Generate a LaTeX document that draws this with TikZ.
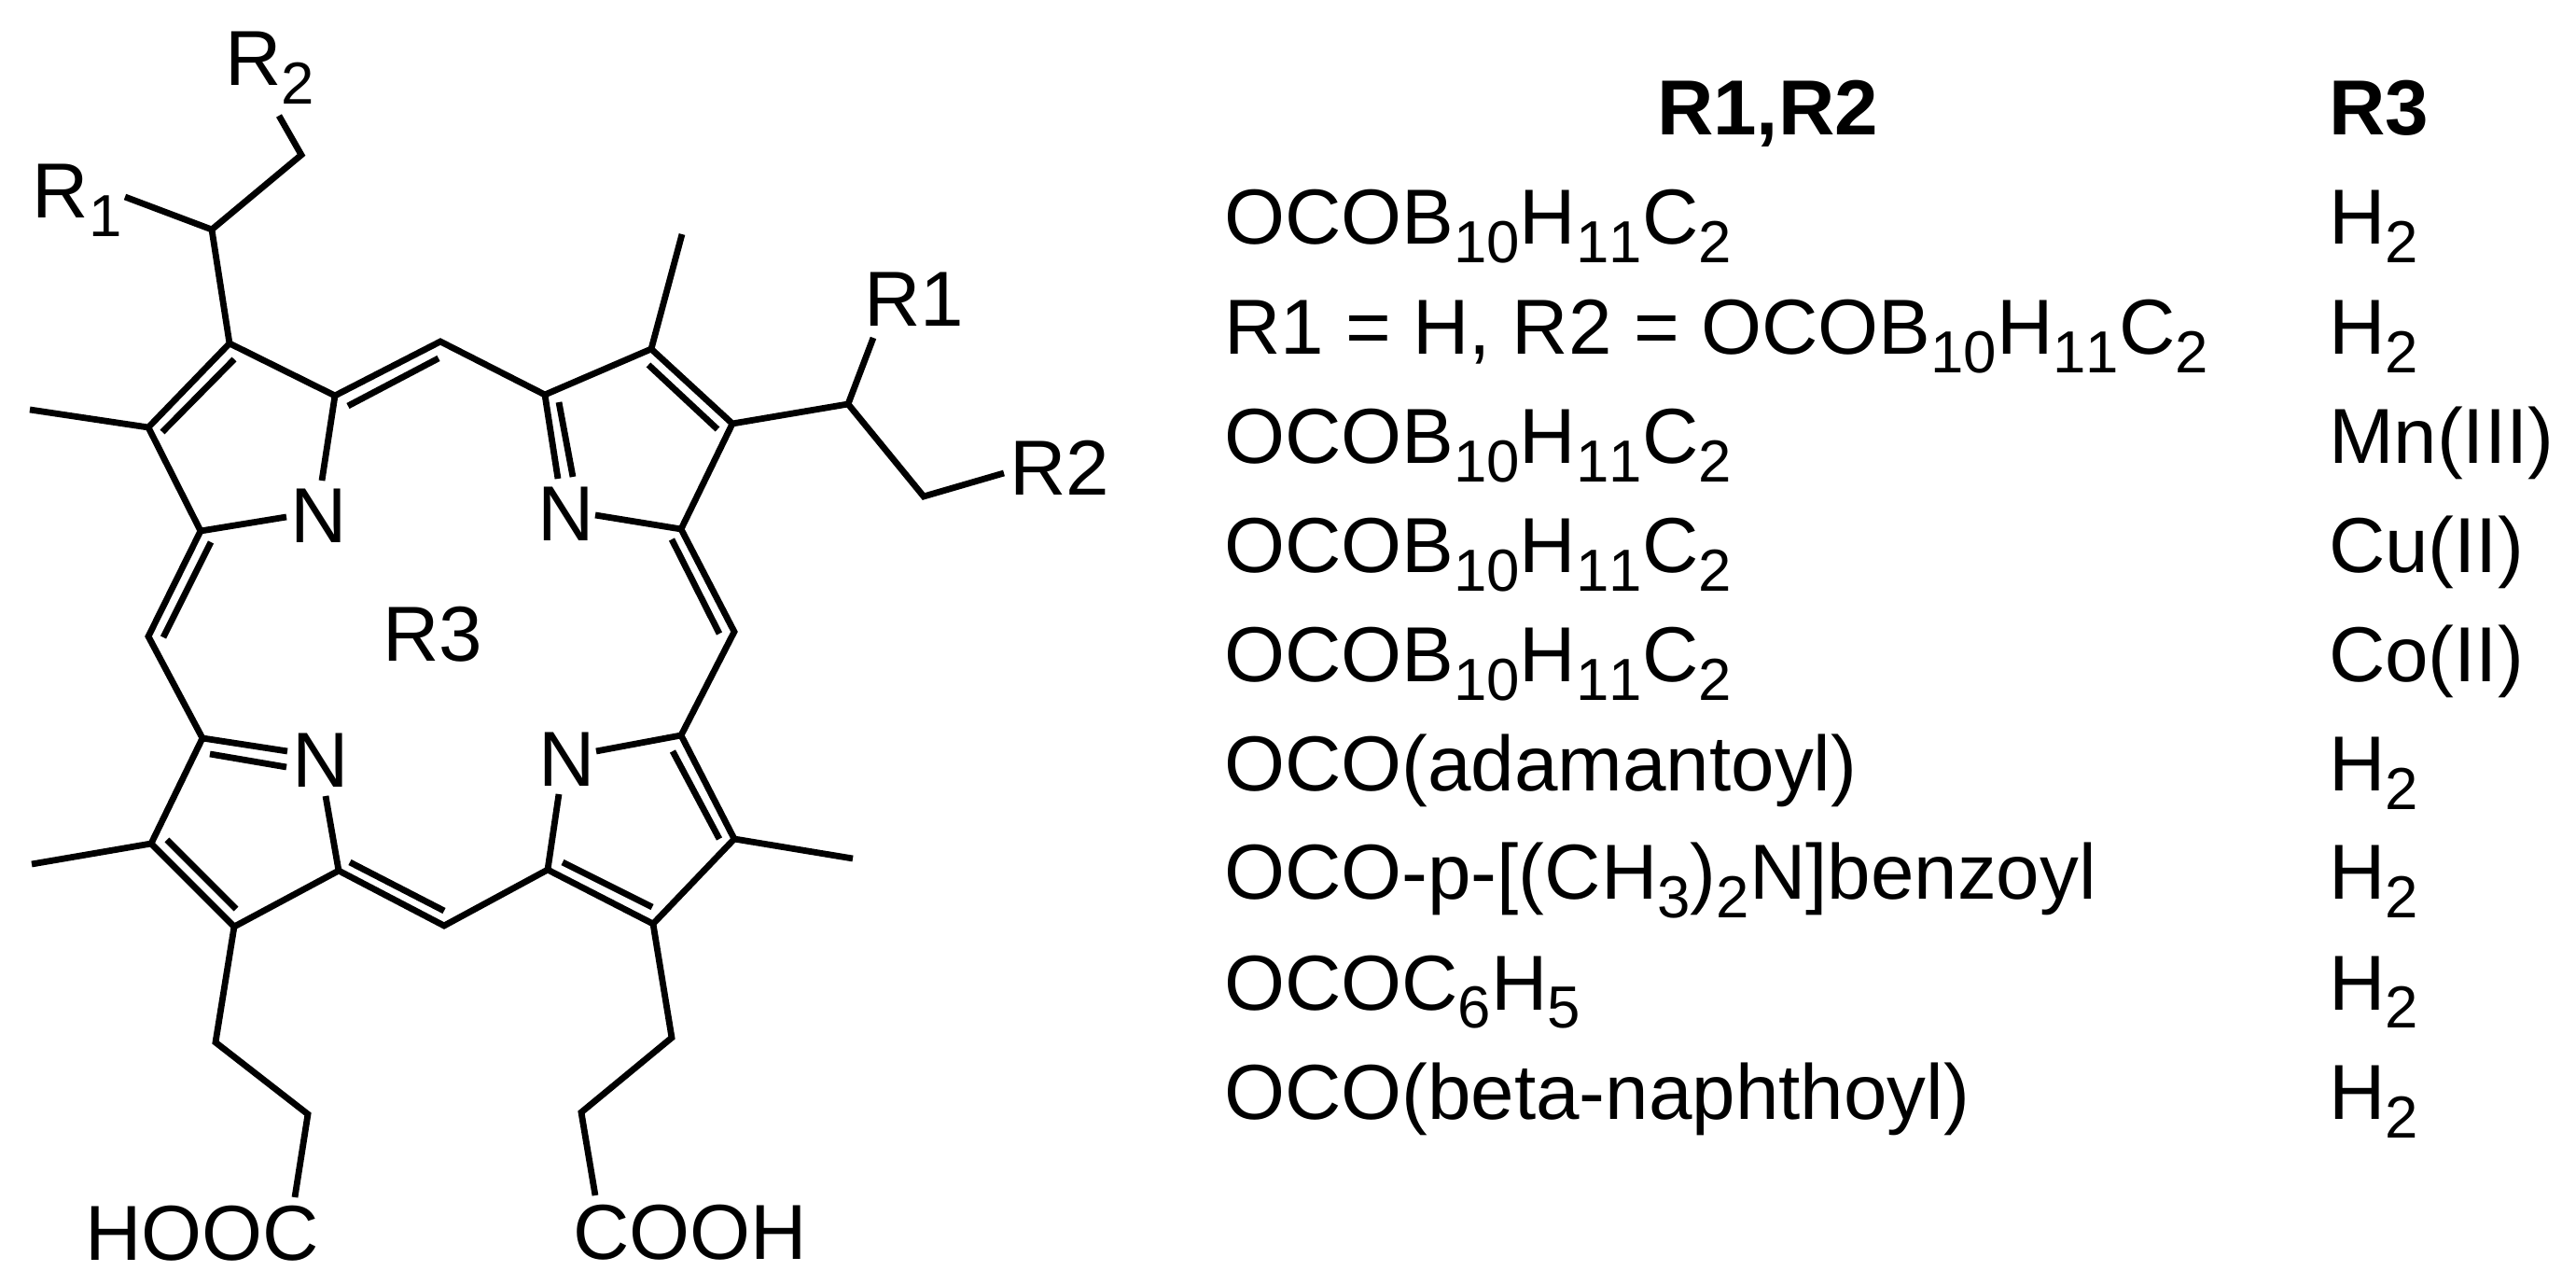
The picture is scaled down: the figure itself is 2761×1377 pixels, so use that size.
\documentclass[tikz,border=0pt]{standalone}
\usepackage{fontspec}
\setmainfont[Kerning=Off]{Liberation Sans}
\newcommand{\subs}[1]{{\fontsize{15.9}{15.9}\selectfont\raisebox{-5pt}{#1}}}
\tikzset{
  bond/.style={line width=1.7pt,line join=miter,black},
  inner/.style={line width=1.7pt,black},
  lab/.style={anchor=base west,inner sep=0pt,outer sep=0pt,font=\fontsize{20.9}{24}\selectfont},
  blab/.style={lab,font=\fontsize{20.9}{24}\selectfont\bfseries}
}
\begin{document}
\begin{tikzpicture}[x=0.25pt,y=-0.25pt]
\fill[white] (0,0) rectangle (2761,1377);
\useasboundingbox (0,0) rectangle (2761,1377);
% atoms
\coordinate (a1) at (227,246);
\coordinate (a2) at (323,166);
\coordinate (eR2) at (299,124);
\coordinate (eR1) at (134,211);
\coordinate (a3) at (246,368);
\coordinate (a4) at (159,458);
\coordinate (me1) at (32,439);
\coordinate (a5) at (215,569);
\coordinate (n1r) at (307,554);
\coordinate (n1t) at (345,515);
\coordinate (a6) at (359,424);
\coordinate (m1) at (472,366);
\coordinate (a7) at (584,423);
\coordinate (a8) at (698,374);
\coordinate (me2) at (731,251);
\coordinate (a9) at (785,454);
\coordinate (ch) at (909,433);
\coordinate (eR1b) at (936,362);
\coordinate (ch2) at (990,532);
\coordinate (eR2b) at (1076,507);
\coordinate (a10) at (730,567);
\coordinate (n2r) at (638,552);
\coordinate (n2t) at (598,513);
\coordinate (m2) at (159,682);
\coordinate (m3) at (787,677);
\coordinate (b1) at (217,791);
\coordinate (n3l) at (308,805);
\coordinate (n3b) at (349,853);
\coordinate (b2) at (363,933);
\coordinate (b3) at (251,993);
\coordinate (b4) at (162,904);
\coordinate (me3) at (34,926);
\coordinate (m4) at (476,992);
\coordinate (b6) at (587,932);
\coordinate (n4b) at (599,851);
\coordinate (n4r) at (639,805);
\coordinate (b7) at (730,788);
\coordinate (b8) at (787,899);
\coordinate (me4) at (914,920);
\coordinate (b9) at (700,990);
\coordinate (c1) at (231,1117);
\coordinate (c2) at (330,1194);
\coordinate (c3) at (316,1283);
\coordinate (d1) at (720,1112);
\coordinate (d2) at (623,1192);
\coordinate (d3) at (638,1281);
% inner ends of double bonds
\coordinate (i1a) at (251,385); \coordinate (i1b) at (174,463);
\coordinate (i2a) at (373,435); \coordinate (i2b) at (470,384);
\coordinate (i3a) at (599,431); \coordinate (i3b) at (614,511);
\coordinate (i4a) at (695,391); \coordinate (i4b) at (769,460);
\coordinate (i5a) at (226,581); \coordinate (i5b) at (175,683);
\coordinate (i6a) at (720,578); \coordinate (i6b) at (771,679);
\coordinate (i7a) at (225,808); \coordinate (i7b) at (307,822);
\coordinate (i8a) at (179,900); \coordinate (i8b) at (253,974);
\coordinate (i9a) at (375,924); \coordinate (i9b) at (476,976);
\coordinate (i10a) at (603,924); \coordinate (i10b) at (699,972);
\coordinate (i11a) at (721,805); \coordinate (i11b) at (771,899);
% skeleton
\draw[bond] (eR1) -- (a1) -- (a2) -- (eR2);
\draw[bond] (a1) -- (a3) -- (a4) -- (me1);
\draw[bond] (a4) -- (a5) -- (n1r);
\draw[bond] (a3) -- (a6) -- (n1t);
\draw[bond] (a6) -- (m1) -- (a7) -- (n2t);
\draw[bond] (a7) -- (a8) -- (me2);
\draw[bond] (a8) -- (a9) -- (ch) -- (eR1b);
\draw[bond] (ch) -- (ch2) -- (eR2b);
\draw[bond] (a9) -- (a10) -- (n2r);
\draw[bond] (a5) -- (m2) -- (b1) -- (n3l);
\draw[bond] (a10) -- (m3) -- (b7) -- (n4r);
\draw[bond] (b1) -- (b4) -- (me3);
\draw[bond] (b4) -- (b3) -- (b2) -- (n3b);
\draw[bond] (b2) -- (m4) -- (b6) -- (n4b);
\draw[bond] (b6) -- (b9) -- (b8) -- (b7);
\draw[bond] (b8) -- (me4);
\draw[bond] (b3) -- (c1) -- (c2) -- (c3);
\draw[bond] (b9) -- (d1) -- (d2) -- (d3);
% double bond inner lines
\foreach \k in {1,...,11} \draw[inner] (i\k a) -- (i\k b);
% structure labels
\node[lab] (tR2) at (241,91.5) {R\subs{2}};
\node[lab] (tR1) at (35,234) {R\subs{1}};
\node[lab] (tR1b) at (926,350) {R1};
\node[lab] (tR2b) at (1082,531) {R2};
\node[lab] (tN1) at (311,582) {N};
\node[lab] (tN2) at (576,580) {N};
\node[lab] (tR3) at (410,709) {R3};
\node[lab] (tN3) at (313,844) {N};
\node[lab] (tN4) at (577,843) {N};
\node[lab] (tHOOC) at (91,1350) {HOOC};
\node[lab] (tCOOH) at (614,1349) {COOH};
% table
\node[blab] (h1) at (1776,145) {R1,R2};
\node[blab] (h2) at (2496,145) {R3};
\node[lab] (r1) at (1312,262) {OCOB\subs{10}H\subs{11}C\subs{2}};
\node[lab] (r2) at (1312,379.5) {R1 = H, R2 = OCOB\subs{10}H\subs{11}C\subs{2}};
\node[lab] (r3) at (1312,497) {OCOB\subs{10}H\subs{11}C\subs{2}};
\node[lab] (r4) at (1312,614) {OCOB\subs{10}H\subs{11}C\subs{2}};
\node[lab] (r5) at (1312,731) {OCOB\subs{10}H\subs{11}C\subs{2}};
\node[lab] (r6) at (1312,848) {OCO(adamantoyl)};
\node[lab] (r7) at (1312,964) {OCO-p-[(CH\subs{3})\subs{2}N]benzoyl};
\node[lab] (r8) at (1312,1082) {OCOC\subs{6}H\subs{5}};
\node[lab] (r9) at (1312,1199) {OCO(beta-naphthoyl)};
\node[lab] (s1) at (2496,262) {H\subs{2}};
\node[lab] (s2) at (2496,379.5) {H\subs{2}};
\node[lab] (s3) at (2496,497) {Mn(III)};
\node[lab] (s4) at (2496,614) {Cu(II)};
\node[lab] (s5) at (2496,731) {Co(II)};
\node[lab] (s6) at (2496,848) {H\subs{2}};
\node[lab] (s7) at (2496,964) {H\subs{2}};
\node[lab] (s8) at (2496,1082) {H\subs{2}};
\node[lab] (s9) at (2496,1199) {H\subs{2}};
\end{tikzpicture}
\end{document}
